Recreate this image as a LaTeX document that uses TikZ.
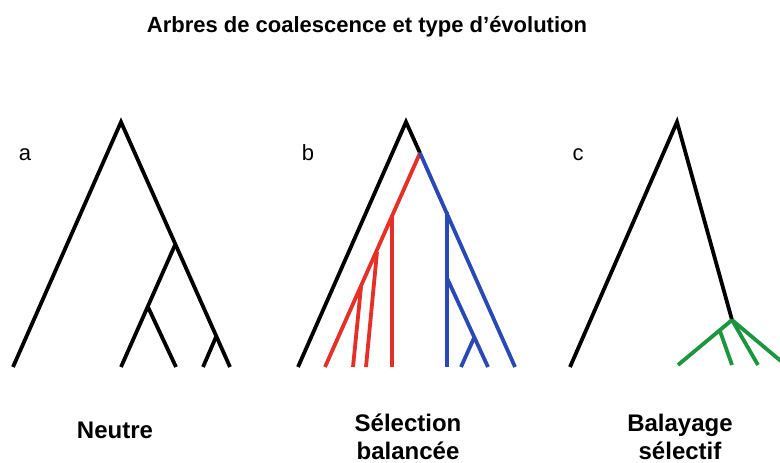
\documentclass[tikz,border=0pt]{standalone}
\usepackage{fontspec}
\setmainfont{Liberation Sans}
\definecolor{selred}{RGB}{228,48,38}
\definecolor{selblue}{RGB}{42,72,182}
\definecolor{sweepgreen}{RGB}{28,150,62}

\begin{document}
\begin{tikzpicture}[x=1pt, y=-1pt,
  branch/.style={line width=3.8pt, black},
  redbranch/.style={branch, selred},
  bluebranch/.style={branch, selblue},
  greenbranch/.style={branch, sweepgreen},
  panel/.style={anchor=base, inner sep=0pt, font=\fontsize{22}{26}\selectfont},
  caption/.style={anchor=base, inner sep=0pt, align=center, text depth=0pt,
                  font=\fontsize{24}{28}\selectfont\bfseries}
]
  \useasboundingbox (0,0) rectangle (780,463);

  % Title
  \node[anchor=base, inner sep=0pt, font=\fontsize{22}{26}\selectfont\bfseries]
    (title) at (367,32) {Arbres de coalescence et type d’évolution};

  % Tree a (neutral)
  \coordinate (a0) at (121,122);
  \coordinate (a1) at (175,245);
  \coordinate (a2) at (148,307);
  \coordinate (a3) at (216,337);
  \coordinate (aL1) at (13,367);
  \coordinate (aL2) at (121,367);
  \coordinate (aL3) at (176,367);
  \coordinate (aL4) at (203,367);
  \coordinate (aL5) at (230,367);
  \draw[branch] (aL1) -- (a0) -- (aL5);
  \draw[branch] (a1) -- (aL2);
  \draw[branch] (a2) -- (aL3);
  \draw[branch] (a3) -- (aL4);

  % Tree b (balancing selection)
  \coordinate (b0) at (406,122);
  \coordinate (bs) at (420,153);
  \coordinate (bL1) at (298,367);
  % red clade
  \coordinate (r1) at (392,215);
  \coordinate (r2) at (377,252);
  \coordinate (r3) at (361,287);
  \coordinate (rL1) at (325,367);
  \coordinate (rL2) at (353,367);
  \coordinate (rL3) at (366,367);
  \coordinate (rL4) at (392,367);
  % blue clade
  \coordinate (u1) at (447,212);
  \coordinate (u2) at (447,278);
  \coordinate (u3) at (474,338);
  \coordinate (uL1) at (447,367);
  \coordinate (uL2) at (461,367);
  \coordinate (uL3) at (488,367);
  \coordinate (uL4) at (515,367);
  \draw[branch] (bL1) -- (b0) -- (bs);
  \draw[redbranch] (bs) -- (rL1);
  \draw[redbranch] (r1) -- (rL4);
  \draw[redbranch] (r2) -- (rL3);
  \draw[redbranch] (r3) -- (rL2);
  \draw[bluebranch] (bs) -- (uL4);
  \draw[bluebranch] (u1) -- (uL1);
  \draw[bluebranch] (u2) -- (uL3);
  \draw[bluebranch] (u3) -- (uL2);

  % Tree c (selective sweep)
  \coordinate (c0) at (677,122);
  \coordinate (c1) at (732,320);
  \coordinate (c2) at (720,331);
  \coordinate (cL1) at (570,367);
  \coordinate (gL1) at (678,365);
  \coordinate (gL2) at (732,365);
  \coordinate (gL3) at (758,365);
  \coordinate (gL4) at (782,362);
  \draw[branch] (cL1) -- (c0) -- (c1);
  \draw[greenbranch] (c1) -- (gL1);
  \draw[greenbranch] (c2) -- (gL2);
  \draw[greenbranch] (c1) -- (gL3);
  \draw[greenbranch] (c1) -- (gL4);

  % Panel letters
  \node[panel] (la) at (25,160) {a};
  \node[panel] (lb) at (308,160) {b};
  \node[panel] (lc) at (578,160) {c};

  % Captions
  \node[caption] (neutre) at (115,438) {Neutre};
  \node[caption] (balance) at (408,459) {Sélection\\balancée};
  \node[caption] (balayage) at (680,459) {Balayage\\sélectif};
\end{tikzpicture}
\end{document}
